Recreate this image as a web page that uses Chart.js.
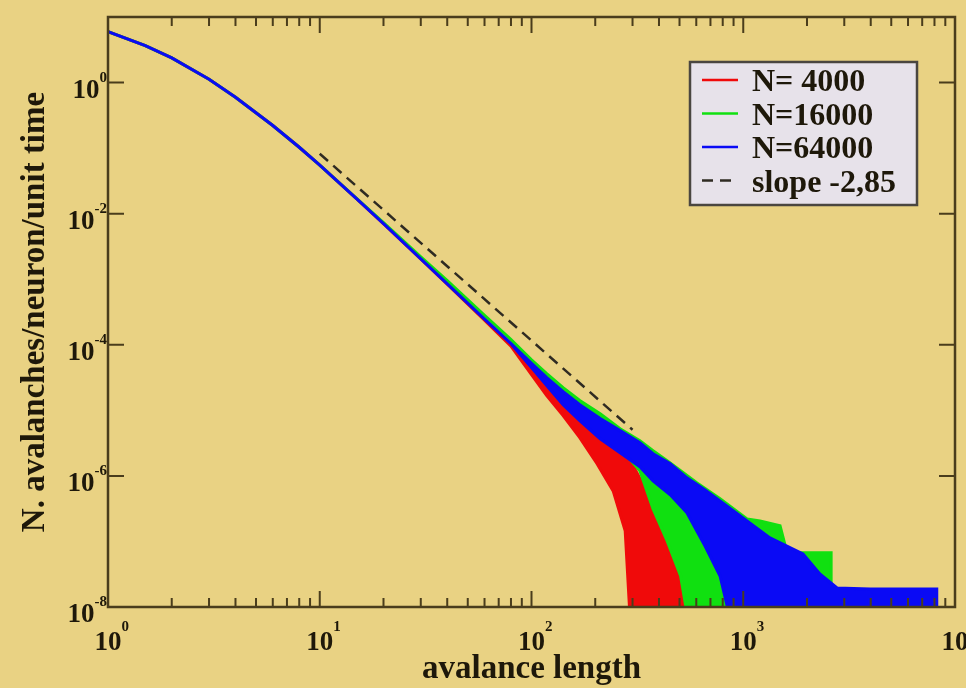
<!DOCTYPE html>
<html>
<head>
<meta charset="utf-8">
<title>Avalanche length distribution</title>
<script src="https://cdn.jsdelivr.net/npm/chart.js@4.4.1/dist/chart.umd.min.js"></script>
<style>
  html, body { margin: 0; padding: 0; background: #e9d283; }
  canvas { display: block; }
</style>
</head>
<body>
<canvas id="chart" width="966" height="688"></canvas>
<script>
"use strict";

// Avalanche length (x) vs avalanches per neuron per unit time (y), log-log

// Head of the distribution, where the three sizes nearly coincide
const headLengths = [1, 1.5, 2, 3, 4, 6, 8, 10, 15, 20, 30, 40, 60, 80];
const headRate4000 = [5.96, 3.66, 2.38, 1.125, 0.597, 0.221, 0.103, 0.0552, 0.0167, 0.00705, 0.00205, 8.4e-4, 2.38e-4, 9.5e-5];
const headRate16000 = [5.96, 3.66, 2.38, 1.125, 0.597, 0.221, 0.103, 0.0552, 0.0168, 0.0073, 0.0022, 9.5e-4, 2.8e-4, 1.2e-4];
const headRate64000 = [5.96, 3.66, 2.38, 1.125, 0.597, 0.221, 0.103, 0.0552, 0.0167, 0.00705, 0.00205, 8.5e-4, 2.47e-4, 1.04e-4];

// Noisy tails: upper and lower edge of the scatter (0 = no avalanche of that length)
const tailLengths4000 = [100, 118, 141, 169, 204, 243, 277, 302, 343, 405, 466, 519, 605];
const tailHigh4000 = [4.66e-5, 2.85e-5, 1.41e-5, 8.3e-6, 4.9e-6, 2.89e-6, 1.82e-6, 1.43e-6, 6.6e-7, 4.6e-7, 2.45e-7, 1.73e-7, 1.45e-7];
const tailLow4000 = [3.52e-5, 1.68e-5, 8.3e-6, 3.83e-6, 1.53e-6, 5.9e-7, 1.45e-7, 0, 0, 0, 0, 0, 0];

const tailLengths16000 = [100, 118, 141, 169, 211, 262, 325, 375, 437, 506, 605, 777, 1042, 1200, 1492, 1610, 2486, 2600];
const tailHigh16000 = [5.9e-5, 3.64e-5, 2.22e-5, 1.41e-5, 8.9e-6, 5.25e-6, 3.44e-6, 2.42e-6, 1.7e-6, 1.2e-6, 7.8e-7, 4.47e-7, 2.21e-7, 2.06e-7, 1.73e-7, 6.7e-8, 6.7e-8, 6.7e-8];
const tailLow16000 = [4.79e-5, 2.75e-5, 1.51e-5, 8.9e-6, 5.43e-6, 2.69e-6, 1.2e-6, 3.14e-7, 1.02e-7, 2.97e-8, 0, 0, 0, 0, 0, 0, 0, 0];

const tailLengths64000 = [100, 118, 141, 169, 211, 262, 325, 375, 452, 542, 660, 777, 997, 1337, 1915, 2300, 2773, 3969, 8200];
const tailHigh64000 = [5.2e-5, 3.16e-5, 1.93e-5, 1.22e-5, 7.5e-6, 4.9e-6, 3.21e-6, 2.18e-6, 1.53e-6, 9.35e-7, 6.12e-7, 4.16e-7, 2.29e-7, 1.13e-7, 6.44e-8, 3.2e-8, 1.95e-8, 1.88e-8, 1.88e-8];
const tailLow64000 = [4.5e-5, 2.39e-5, 1.22e-5, 6.96e-6, 3.69e-6, 2.26e-6, 1.38e-6, 8.4e-7, 5.14e-7, 2.73e-7, 8.5e-8, 2.97e-8, 0, 0, 0, 0, 0, 0, 0];

// Reference power law
const slopeLengths = [10, 300];
const slopeRate = [0.082, 5.06e-6];

// Axis ticks
const xMajorTicks = [1, 10, 100, 1000, 10000];
const xMajorExps = ["0", "1", "2", "3", "4"];
const xMinorSteps = [2, 3, 4, 5, 6, 7, 8, 9];
const yMajorTicks = [1, 1e-2, 1e-4, 1e-6, 1e-8];
const yMajorExps = ["0", "-2", "-4", "-6", "-8"];

const yMin = 1e-8;
const yMax = 10;
// empty bins are sent below the axis floor so the fill reaches the bottom edge
const emptyBin = 1e-9;

const bgColor = "#e9d283";
const axisColor = "#4a3d1c";
const textColor = "#1e180a";
const serif = "'Liberation Serif', 'DejaVu Serif', serif";

/**
 * Builds a closed outline: head and upper tail edge left to right,
 * then lower tail edge and head back right to left.
 */
function band(headRate, tailLengths, tailHigh, tailLow) {
    const lengths = headLengths.concat(tailLengths);
    const high = headRate.concat(tailHigh);
    const low = headRate.concat(tailLow);
    const point = (x, v) => ({ x, y: v > 0 ? v : emptyBin });
    const top = lengths.map((x, i) => point(x, high[i]));
    const bottom = lengths.map((x, i) => point(x, low[i])).reverse();
    return top.concat(bottom);
}

function sizeDataset(label, color, order, points) {
    return {
        label,
        data: points,
        borderColor: color,
        backgroundColor: color,
        borderWidth: 3,
        pointRadius: 0,
        tension: 0,
        fill: "shape",
        order
    };
}

// Background, frame, inward ticks, tick labels and axis titles
const frame = {
    id: "frame",
    beforeDraw(chart) {
        const ctx = chart.ctx;
        ctx.save();
        ctx.fillStyle = bgColor;
        ctx.fillRect(0, 0, chart.width, chart.height);
        ctx.restore();
    },
    afterDatasetsDraw(chart) {
        const { ctx, chartArea: a, scales: { x, y } } = chart;
        ctx.save();
        ctx.strokeStyle = axisColor;
        ctx.lineWidth = 2.5;
        ctx.strokeRect(a.left, a.top, a.right - a.left, a.bottom - a.top);

        ctx.lineWidth = 2;
        ctx.beginPath();
        xMajorTicks.forEach((v, i) => {
            const px = x.getPixelForValue(v);
            ctx.moveTo(px, a.bottom); ctx.lineTo(px, a.bottom - 16);
            ctx.moveTo(px, a.top); ctx.lineTo(px, a.top + 16);
            if (i < xMajorTicks.length - 1) {
                xMinorSteps.forEach(m => {
                    const mx = x.getPixelForValue(v * m);
                    ctx.moveTo(mx, a.bottom); ctx.lineTo(mx, a.bottom - 9);
                    ctx.moveTo(mx, a.top); ctx.lineTo(mx, a.top + 9);
                });
            }
        });
        yMajorTicks.forEach(v => {
            const py = y.getPixelForValue(v);
            ctx.moveTo(a.left, py); ctx.lineTo(a.left + 16, py);
            ctx.moveTo(a.right, py); ctx.lineTo(a.right - 16, py);
        });
        ctx.stroke();

        // Tick labels: "10" with a raised exponent
        ctx.fillStyle = textColor;
        const big = "bold 27px " + serif;
        const small = "bold 15px " + serif;
        xMajorTicks.forEach((v, i) => {
            const px = x.getPixelForValue(v);
            ctx.font = big;
            ctx.textAlign = "center";
            ctx.textBaseline = "alphabetic";
            ctx.fillText("10", px, a.bottom + 43);
            const w = ctx.measureText("10").width;
            ctx.font = small;
            ctx.textAlign = "left";
            ctx.fillText(xMajorExps[i], px + w / 2, a.bottom + 24);
        });
        yMajorTicks.forEach((v, i) => {
            const py = y.getPixelForValue(v);
            ctx.font = small;
            ctx.textAlign = "right";
            ctx.textBaseline = "alphabetic";
            const supW = ctx.measureText(yMajorExps[i]).width;
            ctx.fillText(yMajorExps[i], a.left - 1, py - 1);
            ctx.font = big;
            ctx.fillText("10", a.left - 1 - supW, py + 15);
        });

        // Axis titles
        ctx.font = "bold 33px " + serif;
        ctx.textAlign = "center";
        ctx.textBaseline = "alphabetic";
        ctx.fillText("avalance length", (a.left + a.right) / 2, 678);
        ctx.save();
        ctx.translate(44, (a.top + a.bottom) / 2);
        ctx.rotate(-Math.PI / 2);
        ctx.fillText("N. avalanches/neuron/unit time", 0, 0);
        ctx.restore();
        ctx.restore();
    }
};

// Boxed legend in the upper right corner of the plot
const boxLegend = {
    id: "boxLegend",
    afterDraw(chart) {
        const ctx = chart.ctx;
        const box = { left: 690, top: 62, width: 227, height: 143 };
        ctx.save();
        ctx.fillStyle = "#e7e2ea";
        ctx.fillRect(box.left, box.top, box.width, box.height);
        ctx.strokeStyle = "#4a4640";
        ctx.lineWidth = 2.5;
        ctx.strokeRect(box.left, box.top, box.width, box.height);
        ctx.font = "bold 32px " + serif;
        ctx.textAlign = "left";
        ctx.textBaseline = "alphabetic";
        chart.data.datasets.forEach((ds, i) => {
            const cy = 80 + i * 33.5;
            ctx.strokeStyle = ds.borderColor;
            ctx.lineWidth = 2.5;
            ctx.setLineDash(ds.borderDash || []);
            ctx.beginPath();
            ctx.moveTo(702, cy);
            ctx.lineTo(738, cy);
            ctx.stroke();
            ctx.setLineDash([]);
            ctx.fillStyle = textColor;
            ctx.fillText(ds.label, 752, cy + 11);
        });
        ctx.restore();
    }
};

const ctx = document.getElementById("chart");
new Chart(ctx, {
    type: "line",
    data: {
        datasets: [
            sizeDataset("N= 4000", "#f00a0a", 4, band(headRate4000, tailLengths4000, tailHigh4000, tailLow4000)),
            sizeDataset("N=16000", "#10e010", 3, band(headRate16000, tailLengths16000, tailHigh16000, tailLow16000)),
            sizeDataset("N=64000", "#0a0af5", 2, band(headRate64000, tailLengths64000, tailHigh64000, tailLow64000)),
            {
                label: "slope -2,85",
                data: slopeLengths.map((x, i) => ({ x, y: slopeRate[i] })),
                borderColor: "#2f2b22",
                borderWidth: 2.5,
                borderDash: [11, 7],
                pointRadius: 0,
                fill: false,
                order: 1
            }
        ]
    },
    options: {
        responsive: false,
        animation: false,
        events: [],
        layout: {
            padding: { left: 108, right: 11, top: 17, bottom: 81 }
        },
        plugins: {
            legend: { display: false },
            tooltip: { enabled: false }
        },
        scales: {
            x: { type: "logarithmic", min: 1, max: 10000, display: false },
            y: { type: "logarithmic", min: yMin, max: yMax, display: false }
        }
    },
    plugins: [frame, boxLegend]
});
</script>
</body>
</html>
